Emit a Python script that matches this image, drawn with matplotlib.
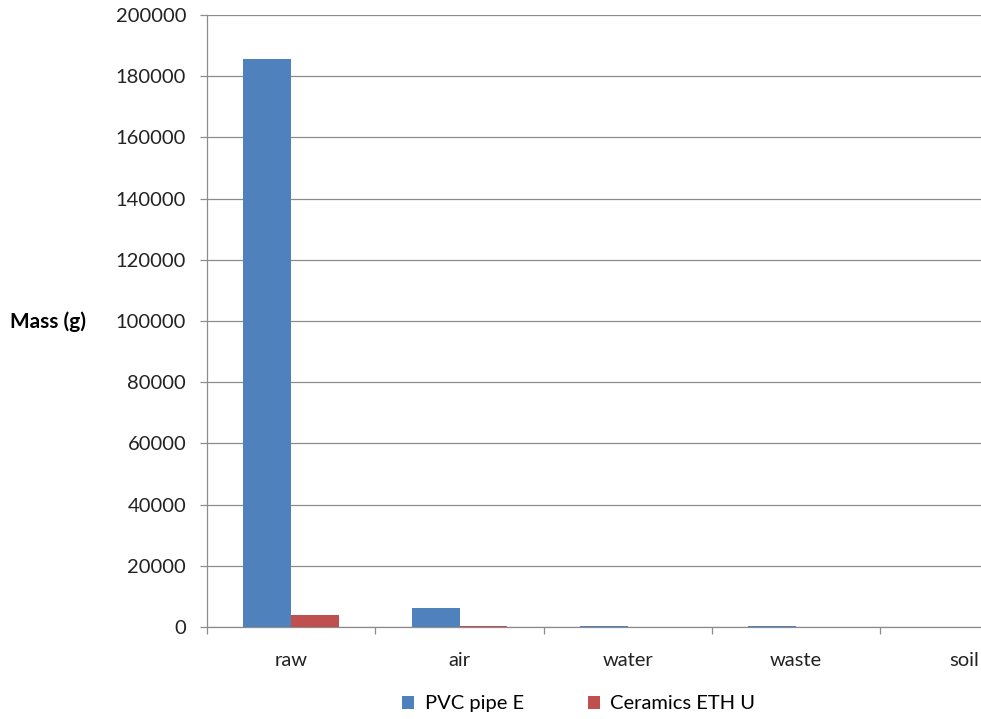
import numpy as np
import matplotlib.pyplot as plt

plt.rcParams['font.family'] = ['Lato', 'DejaVu Sans']

categories = ['raw', 'air', 'water', 'waste', 'soil']
pvc_pipe = [185600, 6100, 400, 400, 0]
ceramics = [3900, 400, 0, 0, 0]
yticks = [0, 20000, 40000, 60000, 80000, 100000, 120000, 140000, 160000, 180000, 200000]

fig = plt.figure(figsize=(9.81, 7.19), dpi=100)
# plot area runs a little past the right edge of the canvas
ax = fig.add_axes([0.211, 0.128, 0.858, 0.851])

x = np.arange(len(categories))
w = 0.285
ax.bar(x - w / 2, pvc_pipe, w, color='#4F81BD', label='PVC pipe E', zorder=3)
ax.bar(x + w / 2, ceramics, w, color='#C0504D', label='Ceramics ETH U', zorder=3)

ax.set_xlim(-0.5, len(categories) - 0.5)
ax.set_ylim(0, 200000)
ax.set_yticks(yticks)
ax.set_yticklabels([str(v) for v in yticks], fontsize=14.5, color='#222222')
ax.yaxis.grid(True, color='#8c8c8c', linewidth=0.9, zorder=0)

# category labels centred, tick marks between the groups
ax.set_xticks(x)
ax.set_xticklabels(categories, fontsize=14.5, color='#222222')
ax.tick_params(axis='x', length=0, pad=18)
ax.set_xticks(np.arange(len(categories) + 1) - 0.5, minor=True)
ax.tick_params(axis='x', which='minor', length=5, color='#8c8c8c', width=0.9)
ax.tick_params(axis='y', length=5, color='#8c8c8c', width=0.9, pad=10)

for side in ['top', 'right']:
    ax.spines[side].set_visible(False)
for side in ['left', 'bottom']:
    ax.spines[side].set_color('#8c8c8c')
    ax.spines[side].set_linewidth(0.9)

fig.text(0.01, 0.552, 'Mass (g)', fontsize=15, fontweight='bold', va='center', ha='left')

fig.legend(*ax.get_legend_handles_labels(), loc='center', bbox_to_anchor=(0.59, 0.021),
           ncol=2, frameon=False, fontsize=14.5, handlelength=0.6, handleheight=0.6,
           columnspacing=3.2, handletextpad=0.5)

fig.savefig('out.png', dpi=100)
